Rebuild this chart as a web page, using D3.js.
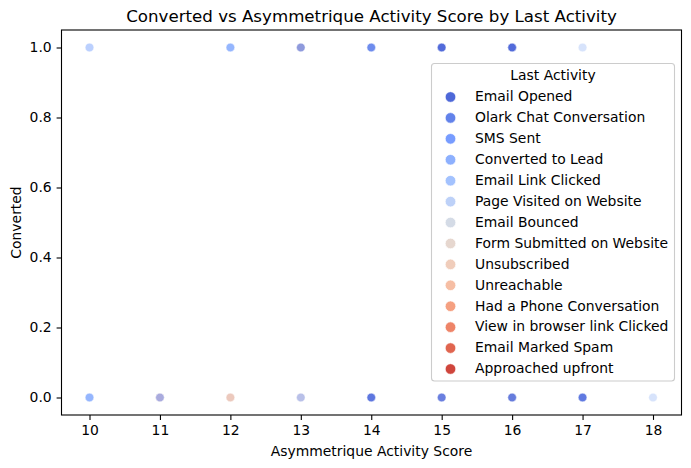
<!DOCTYPE html>
<html><head><meta charset="utf-8">
<script src="https://cdn.jsdelivr.net/npm/d3@7"></script>
<style>
html,body{margin:0;padding:0;background:#fff}
svg{display:block}
text{font-family:"DejaVu Sans";fill:#000}
</style></head><body>
<svg id="c" width="691" height="468"></svg>
<script>
const activities = ["Email Opened","Olark Chat Conversation","SMS Sent","Converted to Lead","Email Link Clicked","Page Visited on Website","Email Bounced","Form Submitted on Website","Unsubscribed","Unreachable","Had a Phone Conversation","View in browser link Clicked","Email Marked Spam","Approached upfront"];
const palette = ["#4e68d8","#6282ea","#779cff","#8db0fe","#a3c2fe","#bdd1f8","#d4dbe6","#e6d7cf","#f0cdbb","#f6bea4","#f5a081","#ee8468","#e0654f","#cf453c"];
const xTicks = [10,11,12,13,14,15,16,17,18];
const yTicks = [0,0.2,0.4,0.6,0.8,1.0];
// [score, activity index] for leads with Converted = 1
const convertedOne = [[10,3],[12,3],[12,3],[12,3],[13,7],[13,0],[14,2],[14,1],[14,1],[15,0],[15,0],[15,0],[15,0],[16,0],[16,0],[16,0],[16,0],[17,5]];
// [score, activity index] for leads with Converted = 0
const convertedZero = [[10,3],[10,3],[10,3],[11,10],[11,9],[11,2],[12,11],[12,7],[13,9],[13,3],[14,0],[14,1],[14,0],[15,0],[15,0],[16,6],[16,0],[16,0],[17,1],[17,1],[17,0],[18,5]];

const svg = d3.select("#c");
const x = d3.scaleLinear().domain([10,18]).range([89.5,653]);
const y = d3.scaleLinear().domain([0,1]).range([397.5,47.5]);
const L=61.5,R=681.5,T=30,B=415;

const pts = [...convertedZero.map(d=>[d[0],0,d[1]]),...convertedOne.map(d=>[d[0],1,d[1]])];
svg.append("g").selectAll("circle").data(pts).join("circle")
  .attr("cx",d=>x(d[0])).attr("cy",d=>y(d[1])).attr("r",4.3)
  .attr("fill",d=>palette[d[2]]).attr("fill-opacity",0.6)
  .attr("stroke","#fff").attr("stroke-width",0.7).attr("stroke-opacity",0.6);

const ax = svg.append("g").attr("transform",`translate(0,${B})`)
  .call(d3.axisBottom(x).tickValues(xTicks).tickFormat(d3.format("d")).tickSize(4.9).tickPadding(4.9));
const ay = svg.append("g").attr("transform",`translate(${L},0)`)
  .call(d3.axisLeft(y).tickValues(yTicks).tickFormat(d3.format(".1f")).tickSize(4.9).tickPadding(4.9));
[ax,ay].forEach(a=>{
  a.selectAll("text").attr("font-size",13.9).attr("font-family","DejaVu Sans").attr("fill","#000");
  a.selectAll("line").attr("stroke","#000").attr("stroke-width",1.1);
  a.select(".domain").remove();
});
svg.append("rect").attr("x",L).attr("y",T).attr("width",R-L).attr("height",B-T)
  .attr("fill","none").attr("stroke","#000").attr("stroke-width",1.1);

svg.append("text").attr("x",371.5).attr("y",21.5).attr("text-anchor","middle").attr("font-size",16.67)
  .text("Converted vs Asymmetrique Activity Score by Last Activity");
svg.append("text").attr("x",371.5).attr("y",456).attr("text-anchor","middle").attr("font-size",13.9)
  .text("Asymmetrique Activity Score");
svg.append("text").attr("transform","translate(21,222.5) rotate(-90)").attr("text-anchor","middle").attr("font-size",13.9)
  .text("Converted");

const lg = svg.append("g");
lg.append("rect").attr("x",431.5).attr("y",63.5).attr("width",243).attr("height",317.5).attr("rx",3)
  .attr("fill","#fff").attr("fill-opacity",0.8).attr("stroke","#ccc").attr("stroke-width",1.1);
lg.append("text").attr("x",553).attr("y",80).attr("text-anchor","middle").attr("font-size",13.9).text("Last Activity");
const row = d3.scaleLinear().domain([0,13]).range([96.5,368.5]);
const rows = lg.selectAll("g.r").data(activities).join("g").attr("class","r");
rows.append("circle").attr("cx",450.5).attr("cy",(d,i)=>row(i)+.5).attr("r",5.3)
  .attr("fill",(d,i)=>palette[i]).attr("stroke","#fff").attr("stroke-width",0.7);
rows.append("text").attr("x",475).attr("y",(d,i)=>row(i)+4.8).attr("font-size",13.9).text(d=>d);
</script>
</body></html>
